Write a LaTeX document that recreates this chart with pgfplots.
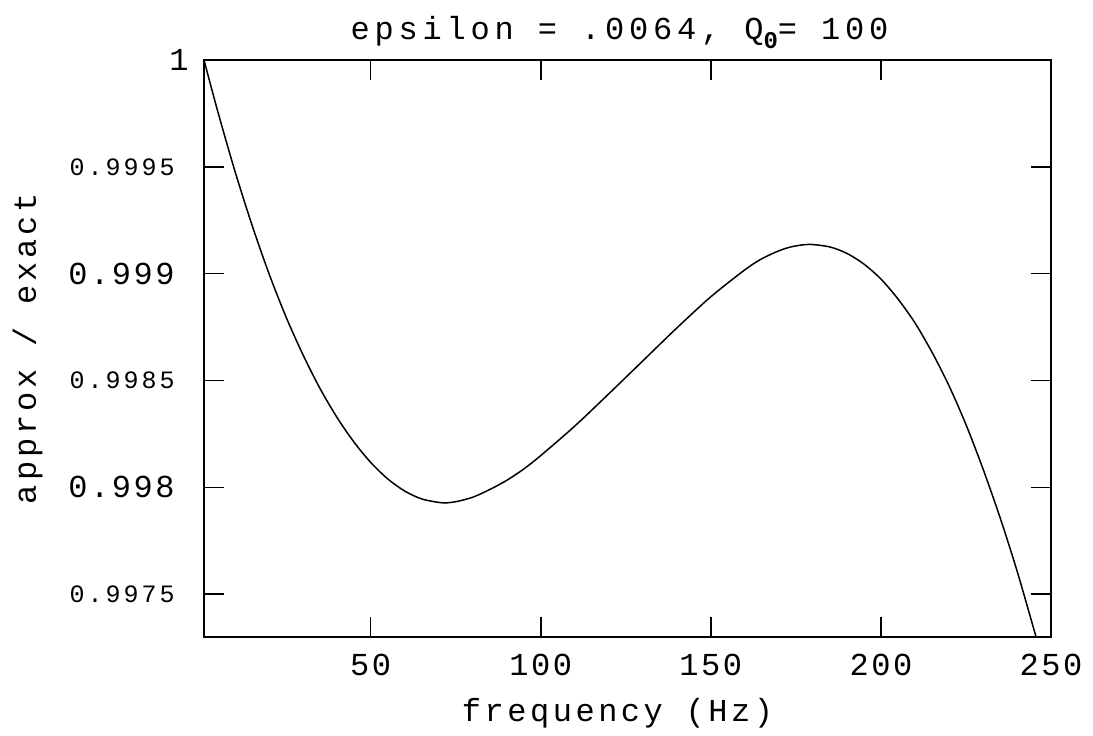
\documentclass[border=0pt]{standalone}
\usepackage{fontspec}
\setmainfont{Liberation Mono}[LetterSpace=8]
\usepackage{pgfplots}
\pgfplotsset{compat=1.18}
\newcommand{\fbig}{\fontsize{16}{19}\selectfont}
\newcommand{\fsmall}{\fontsize{12.5}{15}\selectfont\addfontfeatures{LetterSpace=12}}
\pgfplotstableread{
x y
1 1.000000
5 0.999762
10 0.999485
15 0.999233
20 0.999005
25 0.998802
30 0.998624
35 0.998466
40 0.998330
45 0.998214
50 0.998117
55 0.998040
60 0.997983
65 0.997946
71 0.997928
75 0.997933
80 0.997954
85 0.997990
90 0.998033
95 0.998086
100 0.998149
110 0.998287
120 0.998438
130 0.998592
140 0.998746
150 0.998892
160 0.999018
165 0.999070
170 0.999107
174 0.999127
179 0.999137
185 0.999125
190 0.999095
195 0.999045
200 0.998975
205 0.998882
210 0.998770
215 0.998633
220 0.998476
225 0.998294
230 0.998087
235 0.997860
240 0.997610
245 0.997334
246 0.997278
}\ratiodata
\begin{document}
\begin{tikzpicture}
\begin{axis}[
  scale only axis, width=423.5pt, height=288.5pt,
  xmin=1, xmax=250, ymin=0.9973, ymax=1,
  axis line style={line width=1pt},
  tick align=inside, major tick length=10pt,
  every tick/.style={black, line width=0.8pt},
  xtick={50,100,150,200,250},
  xticklabels={50,100,150,200,250},
  xticklabel style={font=\fbig, anchor=base, yshift=-19.5pt},
  ytick={0.9975,0.998,0.9985,0.999,0.9995,1},
  yticklabels={{\fsmall 0.9975},{\fbig 0.998},{\fsmall 0.9985},{\fbig 0.999},{\fsmall 0.9995},{\fbig 1\kern-7pt}},
  yticklabel style={anchor=east, inner xsep=0pt, xshift=-14.5pt},
  title={epsilon = .0064, Q\raisebox{-4.5pt}{\bfseries\fontsize{12}{12}\selectfont 0}= 100},
  title style={font=\fbig\addfontfeatures{LetterSpace=15}, at={([yshift=4pt,xshift=-4pt]axis description cs:0.5,1)}, anchor=base},
  xlabel={frequency (Hz)},
  xlabel style={font=\fbig\addfontfeatures{LetterSpace=11}, at={([yshift=-42.5pt,xshift=-5pt]axis description cs:0.5,0)}, anchor=base},
  ylabel={approx / exact},
  ylabel style={font=\fbig\addfontfeatures{LetterSpace=12}, at={([xshift=-84pt]axis description cs:0,0.5)}, anchor=base},
]
\addplot[black, line width=0.75pt, smooth, mark=none] table[x=x, y=y] {\ratiodata};
\coordinate (ll) at (rel axis cs:0,0);
\coordinate (ur) at (rel axis cs:1,1);
\end{axis}
\pgfresetboundingbox
\path ([shift={(-102pt,-49.5pt)}]ll) rectangle ([shift={(21pt,30pt)}]ur);
\end{tikzpicture}
\end{document}
